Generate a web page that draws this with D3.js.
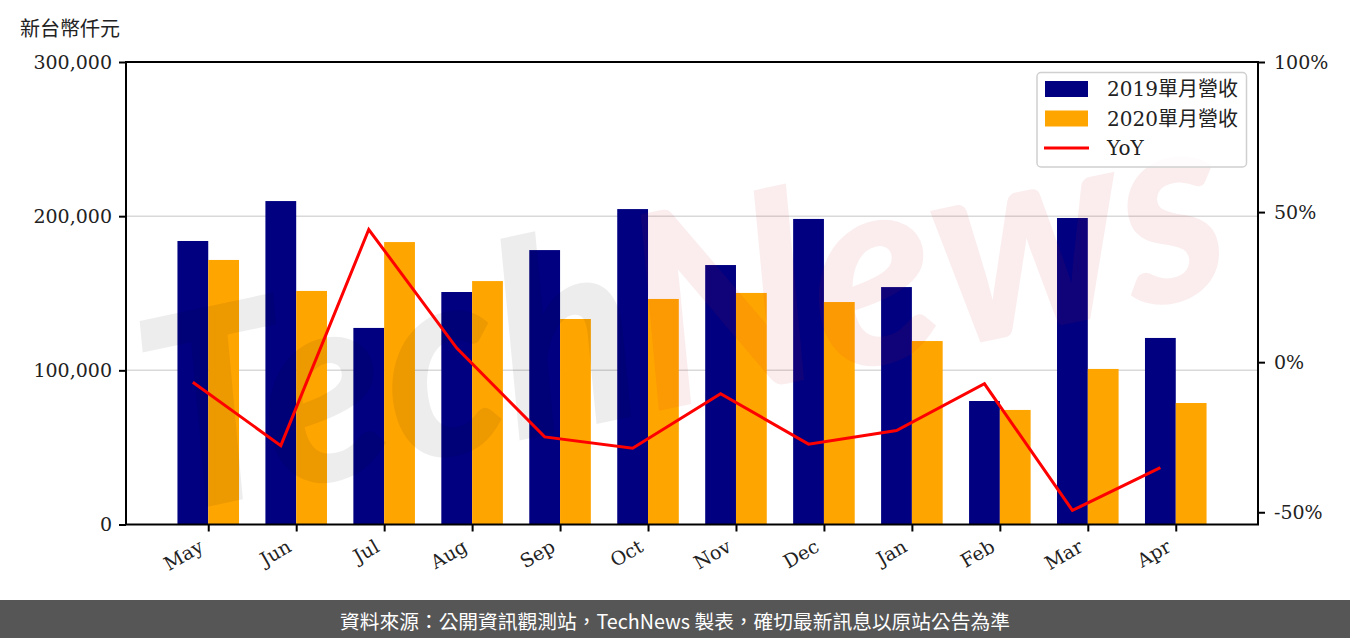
<!DOCTYPE html>
<html><head><meta charset="utf-8">
<script src="https://cdn.jsdelivr.net/npm/d3@7"></script>
<style>body{margin:0;background:#fff}svg{display:block}</style>
</head><body>
<svg id="c" width="1350" height="638"></svg>
<script>
// ---- data ----
const months = ["May","Jun","Jul","Aug","Sep","Oct","Nov","Dec","Jan","Feb","Mar","Apr"];
const rev2019 = [183900, 209800, 127500, 150800, 178000, 204600, 168300, 198200, 154000, 80100, 198800, 121000];
const rev2020 = [171600, 151500, 183200, 157900, 133300, 146300, 150200, 144300, 119000, 74300, 100900, 78800];
const yoy = [-6.7, -27.8, 44.2, 4.7, -24.9, -28.7, -10.5, -27.3, -22.8, -7.2, -49.4, -35.1];
const leftTicks = [0, 100000, 200000, 300000];
const rightTicks = [-50, 0, 50, 100];
const seriesNames = ["2019單月營收", "2020單月營收", "YoY"];
const yTitle = "新台幣仟元";
const footer = "資料來源：公開資訊觀測站，TechNews 製表，確切最新訊息以原站公告為準";

// ---- layout ----
const m = {left:126, right:1258, top:62, bottom:524.5};
const svg = d3.select("#c");
const serif = "'DejaVu Serif', 'Noto Sans CJK TC', serif";
const bw = 0.35;

const x = d3.scaleLinear().domain([-bw - 0.05*(months.length-1+2*bw), months.length-1+bw+0.05*(months.length-1+2*bw)]).range([m.left, m.right]);
const y = d3.scaleLinear().domain([0, 300000]).range([m.bottom, m.top]);
const yMin = d3.min(yoy) - 0.05*(d3.max(yoy) - d3.min(yoy));
const y2 = d3.scaleLinear().domain([yMin, 100]).range([m.bottom, m.top]);

// gridlines
svg.append("g").selectAll("line").data(leftTicks.slice(1, -1)).join("line")
  .attr("x1", m.left).attr("x2", m.right)
  .attr("y1", d => y(d)).attr("y2", d => y(d))
  .attr("stroke", "#d9d9d9").attr("stroke-width", 1.5);

// bars
svg.append("g").selectAll("rect").data(rev2019).join("rect")
  .attr("x", (d,i) => x(i - bw)).attr("width", (d,i) => x(i) - x(i - bw))
  .attr("y", d => y(d)).attr("height", d => y(0) - y(d)).attr("fill", "#000080");
svg.append("g").selectAll("rect").data(rev2020).join("rect")
  .attr("x", (d,i) => x(i)).attr("width", (d,i) => x(i + bw) - x(i))
  .attr("y", d => y(d)).attr("height", d => y(0) - y(d)).attr("fill", "#ffa500");

// watermark
svg.append("clipPath").attr("id","pc").append("rect")
  .attr("x", m.left).attr("y", m.top).attr("width", m.right - m.left).attr("height", m.bottom - m.top);
const wm = svg.append("g").attr("clip-path","url(#pc)")
  .append("text").attr("transform","translate(680,300) rotate(-12)")
  .attr("text-anchor","middle").attr("dominant-baseline","central")
  .attr("font-family","Lato, 'Open Sans', sans-serif").attr("font-weight",900).attr("font-style","italic")
  .attr("font-size",270).attr("textLength",1100).attr("lengthAdjust","spacingAndGlyphs");
wm.append("tspan").text("Tech").attr("fill","rgba(0,0,0,0.07)");
wm.append("tspan").text("News").attr("fill","rgba(200,30,40,0.08)");

// YoY line
svg.append("path").datum(yoy)
  .attr("d", d3.line().x((d,i) => x(i - bw/2)).y(d => y2(d)))
  .attr("fill","none").attr("stroke","#ff0000").attr("stroke-width",3);

// axes
function styleAxis(g){
  g.select(".domain").remove();
  g.selectAll(".tick line").attr("stroke","#000").attr("stroke-width",2);
  g.selectAll(".tick text").attr("fill","#222").attr("font-family",serif).attr("font-size",19);
}
svg.append("g").attr("transform",`translate(${m.left},0)`)
  .call(d3.axisLeft(y).tickValues(leftTicks).tickFormat(d3.format(",")).tickSize(7).tickPadding(7))
  .call(styleAxis);
svg.append("g").attr("transform",`translate(${m.right},0)`)
  .call(d3.axisRight(y2).tickValues(rightTicks).tickFormat(d => d + "%").tickSize(7).tickPadding(9))
  .call(styleAxis);
const xa = svg.append("g").attr("transform",`translate(0,${m.bottom})`)
  .call(d3.axisBottom(x).tickValues(d3.range(months.length)).tickFormat(i => months[i]).tickSize(7))
  .call(styleAxis);
xa.selectAll(".tick text").attr("text-anchor","end").attr("dy",null).attr("y",null)
  .attr("transform","translate(-4,26) rotate(-30)");

// frame
svg.append("rect").attr("x", m.left).attr("y", m.top)
  .attr("width", m.right - m.left).attr("height", m.bottom - m.top)
  .attr("fill","none").attr("stroke","#000").attr("stroke-width",2);

// y title
svg.append("text").attr("x",20).attr("y",27).attr("dominant-baseline","central")
  .attr("font-family","'Noto Sans CJK TC', sans-serif").attr("font-size",20).attr("fill","#222").text(yTitle);

// legend
const lg = svg.append("g");
lg.append("rect").attr("x",1037).attr("y",72.5).attr("width",209.5).attr("height",94.5).attr("rx",4)
  .attr("fill","#fff").attr("fill-opacity",0.8).attr("stroke","#d0d0d0").attr("stroke-width",1.5);
const rowY = [89, 118.5, 148];
lg.append("rect").attr("x",1045).attr("y",rowY[0]-8).attr("width",43).attr("height",16).attr("fill","#000080");
lg.append("rect").attr("x",1045).attr("y",rowY[1]-8).attr("width",43).attr("height",16).attr("fill","#ffa500");
lg.append("line").attr("x1",1044).attr("x2",1089).attr("y1",rowY[2]).attr("y2",rowY[2]).attr("stroke","#ff0000").attr("stroke-width",3);
lg.selectAll("text.l").data(seriesNames).join("text").attr("class","l")
  .attr("x",1107).attr("y",(d,i) => rowY[i]).attr("dominant-baseline","central")
  .attr("font-family",serif).attr("font-size",20).attr("fill","#222").text(d => d);

// footer
svg.append("rect").attr("x",0).attr("y",600).attr("width",1350).attr("height",38).attr("fill","#565656");
const ft = svg.append("text").attr("x",675).attr("y",620).attr("text-anchor","middle").attr("dominant-baseline","central")
  .attr("font-family","'Noto Sans CJK TC', sans-serif").attr("font-size",19).attr("fill","#fff").text(footer);
const fw = ft.node().getComputedTextLength();
ft.attr("font-size", 19 * 670 / fw);
</script>
</body></html>
